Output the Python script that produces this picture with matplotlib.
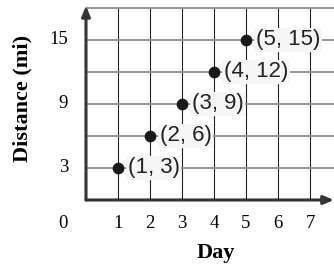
import matplotlib
matplotlib.use("Agg")
import matplotlib.pyplot as plt

days = [1, 2, 3, 4, 5]
distance = [3, 6, 9, 12, 15]
x_ticks = [1, 2, 3, 4, 5, 6, 7]
y_ticks = [3, 9, 15]
grid_y = [3, 6, 9, 12, 15, 18]

serif = "Liberation Serif"
sans = "Liberation Sans"

fig = plt.figure(figsize=(3.34, 2.67), dpi=100)
# origin at pixel (86, 200), 32 px per day, 32 px per 3 mi
ax = fig.add_axes([86 / 334, 67 / 267, 248 / 334, 195 / 267])
ax.set_xlim(0, 248 / 32)
ax.set_ylim(0, 195 / (32 / 3))
ax.axis("off")

# grid
for x in x_ticks:
    ax.plot([x, x], [0, 18], color="#222222", lw=0.8, zorder=1, clip_on=False)
for y in grid_y:
    ax.plot([0, 248 / 32], [y, y], color="#8c8c8c", lw=1.3, zorder=1, clip_on=False)

# axes with arrows
ax.annotate("", xy=(248 / 32, 0), xytext=(0, 0),
            arrowprops=dict(arrowstyle="-|>,head_length=0.6,head_width=0.25",
                            color="#333333", lw=2.2, shrinkA=0, shrinkB=0),
            annotation_clip=False, zorder=3)
ax.annotate("", xy=(0, 18.2), xytext=(0, 0),
            arrowprops=dict(arrowstyle="-|>,head_length=0.6,head_width=0.25",
                            color="#333333", lw=2.2, shrinkA=0, shrinkB=0),
            annotation_clip=False, zorder=3)

# tick labels
for x in x_ticks:
    ax.text(x, -2.25, str(x), ha="center", va="center", family=serif, fontsize=13.5)
ax.text(-0.56, -2.25, "0", ha="right", va="center", family=serif, fontsize=13.5)
for y in y_ticks:
    ax.text(-0.56, y, str(y), ha="right", va="center", family=serif, fontsize=13.5)

ax.text(4.06, -4.95, "Day", ha="center", va="center", family=serif,
        fontsize=16, fontweight="bold")
ax.text(-2.0, 9.5, "Distance (mi)", ha="center", va="center", rotation=90,
        family=serif, fontsize=16, fontweight="bold")

# points and labels
ax.scatter(days, distance, s=55, color="#1a1a1a", zorder=4, clip_on=False)
for d, m in zip(days, distance):
    ax.annotate(f"({d}, {m})", xy=(d, m), xytext=(7, 0), textcoords="offset points",
                ha="left", va="center", family=sans, fontsize=16, color="#222222",
                bbox=dict(boxstyle="square,pad=0.08", fc="#f7f7f7", ec="none"),
                zorder=5)

fig.savefig("out.png", dpi=100)
